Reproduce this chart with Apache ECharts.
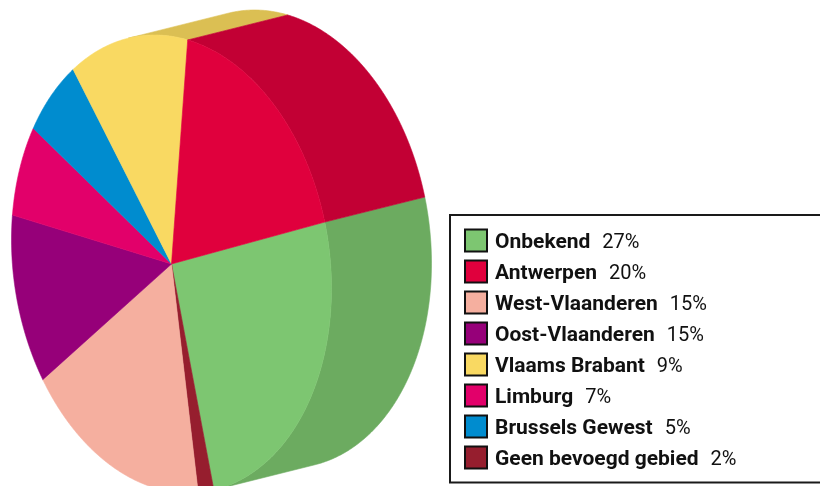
<!DOCTYPE html>
<html><head><meta charset="utf-8">
<script src="https://cdn.jsdelivr.net/npm/echarts@6/dist/echarts.min.js"></script>
<style>html,body{margin:0;padding:0;background:#fff}#c{width:820px;height:486px}</style>
</head><body><div id="c"></div>
<script>
// Slices in drawing order (clockwise from the upper right)
const categories = ['Onbekend','Geen bevoegd gebied','West-Vlaanderen','Oost-Vlaanderen','Limburg','Brussels Gewest','Vlaams Brabant','Antwerpen'];
const values = [26.3, 1.1, 15.2, 16.4, 7.6, 5.2, 8.6, 19.6];
const pctLabels = ['27%','2%','15%','15%','7%','5%','9%','20%'];
const legendOrder = ['Onbekend','Antwerpen','West-Vlaanderen','Oost-Vlaanderen','Vlaams Brabant','Limburg','Brussels Gewest','Geen bevoegd gebied'];
const faceColors = ['#7DC671','#961E2E','#F5AF9F','#960079','#E2006A','#008CCF','#F9D962','#E0003D'];
const sideColors = ['#6CAB60','#801826','#D69888','#800067','#C2005B','#0078B2','#DBBF53','#C20034'];

// geometry of the tilted pie (layout constants)
const CX = 171.5, CY = 264, M11 = 160*160, M22 = 229*229, M12 = 3900;
const DX = 100, DY = -25, START = -15.3;
const det = M11*M22 - M12*M12;
const I11 = M22/det, I22 = M11/det, I12 = -M12/det;
function edge(thDeg){
  const t = thDeg*Math.PI/180, c = Math.cos(t), s = Math.sin(t);
  const q = I11*c*c + 2*I12*c*s + I22*s*s;
  const r = 1/Math.sqrt(q);
  return [CX + r*c, CY + r*s];
}
function sideVisible(p){
  const x = p[0]-CX, y = p[1]-CY;
  const nx = I11*x + I12*y, ny = I12*x + I22*y;
  return nx*DX + ny*DY > 0;
}
const total = values.reduce((a,b)=>a+b,0);

function makeRender(i){
  return function(params, api){
    const v = api.value(0);
    let cum = 0; for (let k=0;k<i;k++) cum += values[k];
    const a0 = START + 360*cum/total, a1 = a0 + 360*v/total;
    const n = Math.max(2, Math.ceil((a1-a0)/0.25));
    const pts = [];
    for (let j=0;j<=n;j++) pts.push(edge(a0 + (a1-a0)*j/n));
    const children = [];
    let run = [];
    const flush = () => {
      if (run.length > 1) {
        const poly = run.slice();
        for (let j=run.length-1;j>=0;j--) poly.push([run[j][0]+DX, run[j][1]+DY]);
        children.push({type:'polygon', shape:{points:poly}, style:{fill:sideColors[i], stroke:sideColors[i], lineWidth:0.6}});
      }
      run = [];
    };
    for (const p of pts) { if (sideVisible(p)) run.push(p); else flush(); }
    flush();
    children.push({type:'polygon', shape:{points:[[CX,CY]].concat(pts)}, style:{fill:faceColors[i], stroke:faceColors[i], lineWidth:0.6}});
    return {type:'group', children};
  };
}

const series = categories.map((name,i)=>({
  type:'custom', name, coordinateSystem:'none', silent:true,
  itemStyle:{color:faceColors[i]},
  data:[[values[i]]],
  renderItem: makeRender(i)
}));

const FONT = "Roboto, 'DejaVu Sans Condensed', sans-serif";
const chart = echarts.init(document.getElementById('c'), null, {renderer:'canvas'});
chart.setOption({
  animation:false,
  backgroundColor:'#fff',
  graphic:[{type:'rect', z:-1, shape:{x:450, y:215, width:380, height:267.5}, style:{fill:'#fff', stroke:'#1a1a1a', lineWidth:2}}],
  legend:{
    orient:'vertical', left:464, top:228, padding:0, height:260,
    itemWidth:22, itemHeight:22, itemGap:6, icon:'rect', selectedMode:false,
    data: legendOrder.map(nm=>{
      const i = categories.indexOf(nm);
      return {name:nm, itemStyle:{color:faceColors[i], borderColor:'#111', borderWidth:2}};
    }),
    formatter: nm => '{n|' + nm + '}{p|' + pctLabels[categories.indexOf(nm)] + '}',
    textStyle:{
      rich:{
        n:{fontFamily:FONT, fontWeight:'bold', fontSize:21, lineHeight:22, color:'#111', padding:[4,12,0,3]},
        p:{fontFamily:FONT, fontWeight:'normal', fontSize:20, lineHeight:22, color:'#111', padding:[4,0,0,0]}
      }
    }
  },
  series
});
</script></body></html>
